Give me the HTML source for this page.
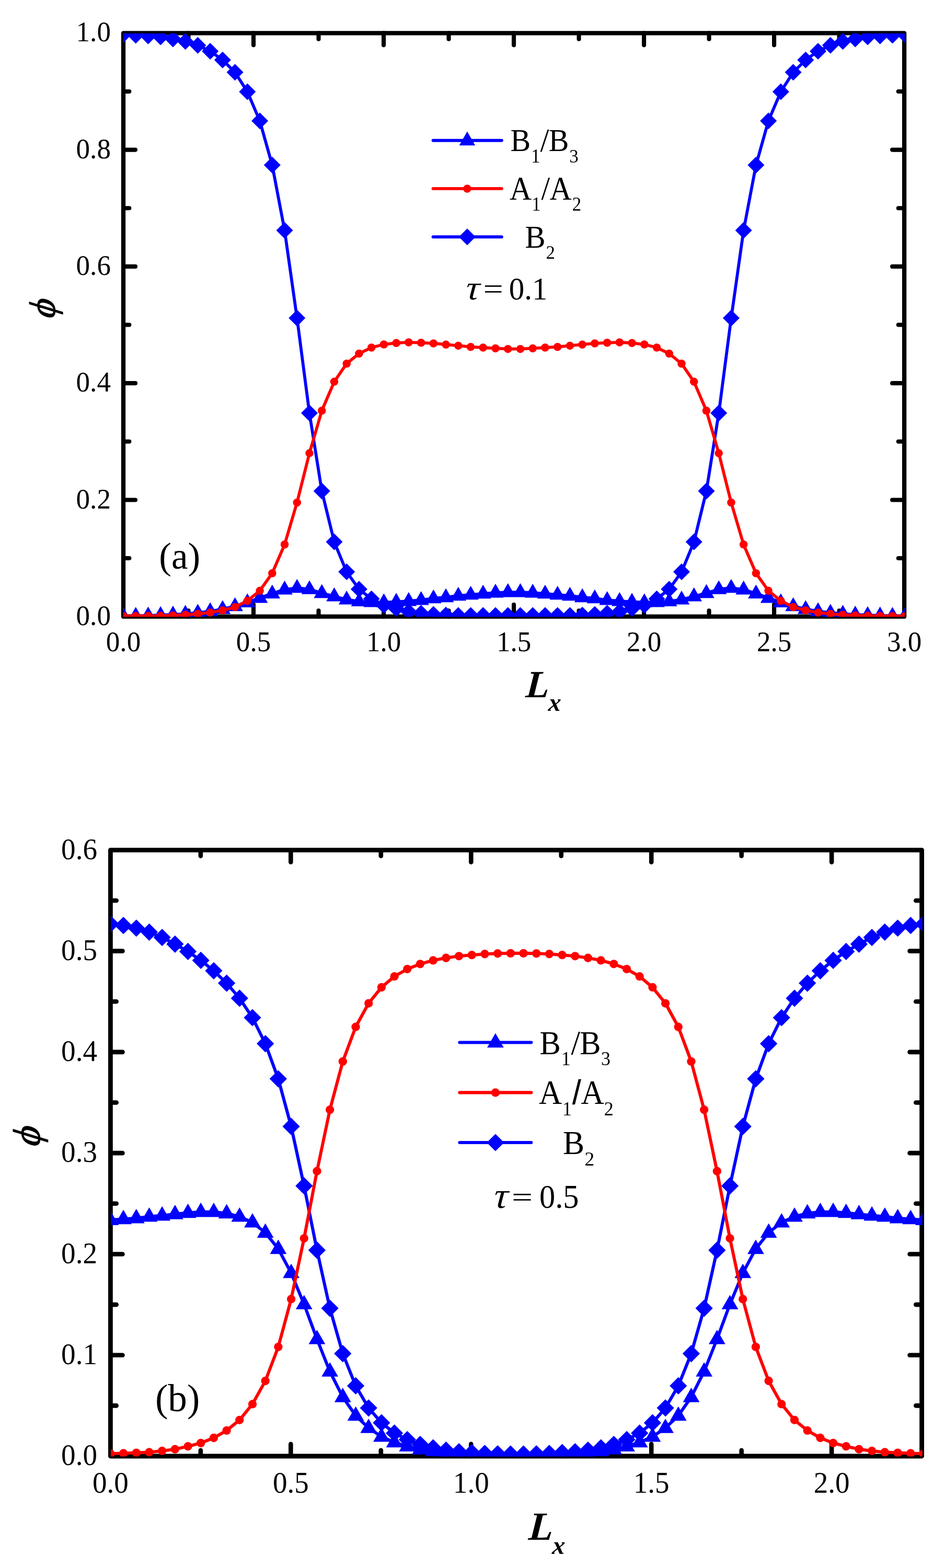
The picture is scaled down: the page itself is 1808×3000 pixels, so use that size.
<!DOCTYPE html>
<html lang="en">
<head>
<meta charset="utf-8">
<title>Density profiles</title>
<style>
html,body{margin:0;padding:0;background:#fff}
svg{display:block}
text{font-family:"Liberation Serif", serif;fill:#000}
</style>
</head>
<body>
<svg width="1808" height="3000" viewBox="0 0 1808 3000">
<rect width="1808" height="3000" fill="#fff"/>
<g fill="none" stroke="#000" stroke-width="8.3" stroke-linecap="round" stroke-linejoin="round">
<rect x="236" y="63.35" width="1494.1" height="1116.35"/>
<path d="M360.51 1179.7v-11.3M360.51 63.35v11.3M485.02 1179.7v-23M485.02 63.35v23M609.52 1179.7v-11.3M609.52 63.35v11.3M734.03 1179.7v-23M734.03 63.35v23M858.54 1179.7v-11.3M858.54 63.35v11.3M983.05 1179.7v-23M983.05 63.35v23M1107.56 1179.7v-11.3M1107.56 63.35v11.3M1232.07 1179.7v-23M1232.07 63.35v23M1356.58 1179.7v-11.3M1356.58 63.35v11.3M1481.08 1179.7v-23M1481.08 63.35v23M1605.59 1179.7v-11.3M1605.59 63.35v11.3M236 1068.07h11.3M1730.1 1068.07h-11.3M236 956.43h23M1730.1 956.43h-23M236 844.79h11.3M1730.1 844.79h-11.3M236 733.16h23M1730.1 733.16h-23M236 621.52h11.3M1730.1 621.52h-11.3M236 509.89h23M1730.1 509.89h-23M236 398.25h11.3M1730.1 398.25h-11.3M236 286.62h23M1730.1 286.62h-23M236 174.98h11.3M1730.1 174.98h-11.3" stroke-width="8.1"/>
</g>
<clipPath id="aclip"><rect x="235.8" y="64" width="1495.2" height="1116.1"/></clipPath>
<g clip-path="url(#aclip)">
<polyline points="236,1178.58 259.73,1178.36 283.47,1177.8 307.2,1177.02 330.93,1176.02 354.67,1174.45 378.4,1172.33 402.13,1169.54 425.87,1165.41 449.6,1159.83 473.33,1152.57 497.07,1143.98 520.8,1135.6 544.53,1128.01 568.27,1124.89 592,1127.45 615.73,1134.82 639.47,1141.07 663.2,1147.21 686.93,1150.67 710.67,1152.13 734.4,1152.35 758.13,1151.57 781.87,1150.01 805.6,1148.11 829.33,1144.87 853.07,1142.75 876.8,1139.96 900.53,1137.84 924.27,1135.94 948,1134.04 971.73,1133.04 995.47,1133.04 1019.2,1134.04 1042.93,1135.94 1066.67,1137.84 1090.4,1139.96 1114.13,1142.75 1137.87,1144.87 1161.6,1148.11 1185.33,1150.01 1209.07,1151.57 1232.8,1152.35 1256.53,1152.13 1280.27,1150.67 1304,1147.21 1327.73,1141.07 1351.47,1134.82 1375.2,1127.45 1398.93,1124.89 1422.67,1128.01 1446.4,1135.6 1470.13,1143.98 1493.87,1152.57 1517.6,1159.83 1541.33,1165.41 1565.07,1169.54 1588.8,1172.33 1612.53,1174.45 1636.27,1176.02 1660,1177.02 1683.73,1177.8 1707.47,1178.36 1731.2,1178.58" fill="none" stroke="#0000ff" stroke-width="5.8" stroke-linejoin="round"/>
<path d="M236 1161.38l15.3 26.6h-30.6zM259.73 1161.16l15.3 26.6h-30.6zM283.47 1160.6l15.3 26.6h-30.6zM307.2 1159.82l15.3 26.6h-30.6zM330.93 1158.82l15.3 26.6h-30.6zM354.67 1157.25l15.3 26.6h-30.6zM378.4 1155.13l15.3 26.6h-30.6zM402.13 1152.34l15.3 26.6h-30.6zM425.87 1148.21l15.3 26.6h-30.6zM449.6 1142.63l15.3 26.6h-30.6zM473.33 1135.37l15.3 26.6h-30.6zM497.07 1126.78l15.3 26.6h-30.6zM520.8 1118.4l15.3 26.6h-30.6zM544.53 1110.81l15.3 26.6h-30.6zM568.27 1107.69l15.3 26.6h-30.6zM592 1110.25l15.3 26.6h-30.6zM615.73 1117.62l15.3 26.6h-30.6zM639.47 1123.87l15.3 26.6h-30.6zM663.2 1130.01l15.3 26.6h-30.6zM686.93 1133.47l15.3 26.6h-30.6zM710.67 1134.93l15.3 26.6h-30.6zM734.4 1135.15l15.3 26.6h-30.6zM758.13 1134.37l15.3 26.6h-30.6zM781.87 1132.81l15.3 26.6h-30.6zM805.6 1130.91l15.3 26.6h-30.6zM829.33 1127.67l15.3 26.6h-30.6zM853.07 1125.55l15.3 26.6h-30.6zM876.8 1122.76l15.3 26.6h-30.6zM900.53 1120.64l15.3 26.6h-30.6zM924.27 1118.74l15.3 26.6h-30.6zM948 1116.84l15.3 26.6h-30.6zM971.73 1115.84l15.3 26.6h-30.6zM995.47 1115.84l15.3 26.6h-30.6zM1019.2 1116.84l15.3 26.6h-30.6zM1042.93 1118.74l15.3 26.6h-30.6zM1066.67 1120.64l15.3 26.6h-30.6zM1090.4 1122.76l15.3 26.6h-30.6zM1114.13 1125.55l15.3 26.6h-30.6zM1137.87 1127.67l15.3 26.6h-30.6zM1161.6 1130.91l15.3 26.6h-30.6zM1185.33 1132.81l15.3 26.6h-30.6zM1209.07 1134.37l15.3 26.6h-30.6zM1232.8 1135.15l15.3 26.6h-30.6zM1256.53 1134.93l15.3 26.6h-30.6zM1280.27 1133.47l15.3 26.6h-30.6zM1304 1130.01l15.3 26.6h-30.6zM1327.73 1123.87l15.3 26.6h-30.6zM1351.47 1117.62l15.3 26.6h-30.6zM1375.2 1110.25l15.3 26.6h-30.6zM1398.93 1107.69l15.3 26.6h-30.6zM1422.67 1110.81l15.3 26.6h-30.6zM1446.4 1118.4l15.3 26.6h-30.6zM1470.13 1126.78l15.3 26.6h-30.6zM1493.87 1135.37l15.3 26.6h-30.6zM1517.6 1142.63l15.3 26.6h-30.6zM1541.33 1148.21l15.3 26.6h-30.6zM1565.07 1152.34l15.3 26.6h-30.6zM1588.8 1155.13l15.3 26.6h-30.6zM1612.53 1157.25l15.3 26.6h-30.6zM1636.27 1158.82l15.3 26.6h-30.6zM1660 1159.82l15.3 26.6h-30.6zM1683.73 1160.6l15.3 26.6h-30.6zM1707.47 1161.16l15.3 26.6h-30.6zM1731.2 1161.38l15.3 26.6h-30.6z" fill="#0000ff"/>
<polyline points="236,66.03 259.73,67.48 283.47,68.71 307.2,70.61 330.93,74.51 354.67,79.2 378.4,86.79 402.13,97.96 425.87,114.7 449.6,138.37 473.33,175.54 497.07,231.36 520.8,315.87 544.53,440.79 568.27,608.58 592,790.32 615.73,939.46 639.47,1036.81 663.2,1094.08 686.93,1127.34 710.67,1145.87 734.4,1158.04 758.13,1164.41 781.87,1170.21 805.6,1173.23 829.33,1175.46 853.07,1176.8 876.8,1177.47 900.53,1177.47 924.27,1177.47 948,1177.47 971.73,1177.47 995.47,1177.47 1019.2,1177.47 1042.93,1177.47 1066.67,1177.47 1090.4,1177.47 1114.13,1176.8 1137.87,1175.46 1161.6,1173.23 1185.33,1170.21 1209.07,1164.41 1232.8,1158.04 1256.53,1145.87 1280.27,1127.34 1304,1094.08 1327.73,1036.81 1351.47,939.46 1375.2,790.32 1398.93,608.58 1422.67,440.79 1446.4,315.87 1470.13,231.36 1493.87,175.54 1517.6,138.37 1541.33,114.7 1565.07,97.96 1588.8,86.79 1612.53,79.2 1636.27,74.51 1660,70.61 1683.73,68.71 1707.47,67.48 1731.2,66.03" fill="none" stroke="#0000ff" stroke-width="5.8" stroke-linejoin="round"/>
<path d="M236 50.03l16 16l-16 16l-16 -16zM259.73 51.48l16 16l-16 16l-16 -16zM283.47 52.71l16 16l-16 16l-16 -16zM307.2 54.61l16 16l-16 16l-16 -16zM330.93 58.51l16 16l-16 16l-16 -16zM354.67 63.2l16 16l-16 16l-16 -16zM378.4 70.79l16 16l-16 16l-16 -16zM402.13 81.96l16 16l-16 16l-16 -16zM425.87 98.7l16 16l-16 16l-16 -16zM449.6 122.37l16 16l-16 16l-16 -16zM473.33 159.54l16 16l-16 16l-16 -16zM497.07 215.36l16 16l-16 16l-16 -16zM520.8 299.87l16 16l-16 16l-16 -16zM544.53 424.79l16 16l-16 16l-16 -16zM568.27 592.58l16 16l-16 16l-16 -16zM592 774.32l16 16l-16 16l-16 -16zM615.73 923.46l16 16l-16 16l-16 -16zM639.47 1020.81l16 16l-16 16l-16 -16zM663.2 1078.08l16 16l-16 16l-16 -16zM686.93 1111.34l16 16l-16 16l-16 -16zM710.67 1129.87l16 16l-16 16l-16 -16zM734.4 1142.04l16 16l-16 16l-16 -16zM758.13 1148.41l16 16l-16 16l-16 -16zM781.87 1154.21l16 16l-16 16l-16 -16zM805.6 1157.23l16 16l-16 16l-16 -16zM829.33 1159.46l16 16l-16 16l-16 -16zM853.07 1160.8l16 16l-16 16l-16 -16zM876.8 1161.47l16 16l-16 16l-16 -16zM900.53 1161.47l16 16l-16 16l-16 -16zM924.27 1161.47l16 16l-16 16l-16 -16zM948 1161.47l16 16l-16 16l-16 -16zM971.73 1161.47l16 16l-16 16l-16 -16zM995.47 1161.47l16 16l-16 16l-16 -16zM1019.2 1161.47l16 16l-16 16l-16 -16zM1042.93 1161.47l16 16l-16 16l-16 -16zM1066.67 1161.47l16 16l-16 16l-16 -16zM1090.4 1161.47l16 16l-16 16l-16 -16zM1114.13 1160.8l16 16l-16 16l-16 -16zM1137.87 1159.46l16 16l-16 16l-16 -16zM1161.6 1157.23l16 16l-16 16l-16 -16zM1185.33 1154.21l16 16l-16 16l-16 -16zM1209.07 1148.41l16 16l-16 16l-16 -16zM1232.8 1142.04l16 16l-16 16l-16 -16zM1256.53 1129.87l16 16l-16 16l-16 -16zM1280.27 1111.34l16 16l-16 16l-16 -16zM1304 1078.08l16 16l-16 16l-16 -16zM1327.73 1020.81l16 16l-16 16l-16 -16zM1351.47 923.46l16 16l-16 16l-16 -16zM1375.2 774.32l16 16l-16 16l-16 -16zM1398.93 592.58l16 16l-16 16l-16 -16zM1422.67 424.79l16 16l-16 16l-16 -16zM1446.4 299.87l16 16l-16 16l-16 -16zM1470.13 215.36l16 16l-16 16l-16 -16zM1493.87 159.54l16 16l-16 16l-16 -16zM1517.6 122.37l16 16l-16 16l-16 -16zM1541.33 98.7l16 16l-16 16l-16 -16zM1565.07 81.96l16 16l-16 16l-16 -16zM1588.8 70.79l16 16l-16 16l-16 -16zM1612.53 63.2l16 16l-16 16l-16 -16zM1636.27 58.51l16 16l-16 16l-16 -16zM1660 54.61l16 16l-16 16l-16 -16zM1683.73 52.71l16 16l-16 16l-16 -16zM1707.47 51.48l16 16l-16 16l-16 -16zM1731.2 50.03l16 16l-16 16l-16 -16z" fill="#0000ff"/>
<polyline points="236,1178.81 259.73,1178.58 283.47,1178.36 307.2,1178.03 330.93,1177.36 354.67,1176.24 378.4,1174.56 402.13,1171.89 425.87,1167.76 449.6,1161.5 473.33,1149.45 497.07,1130.13 520.8,1096.76 544.53,1041.83 568.27,961.45 592,867.12 615.73,785.74 639.47,730.37 663.2,695.65 686.93,676.45 710.67,665.06 734.4,659.03 758.13,656.24 781.87,654.9 805.6,655.8 829.33,656.91 853.07,659.15 876.8,661.38 900.53,663.72 924.27,665.06 948,666.4 971.73,667.63 995.47,667.63 1019.2,666.4 1042.93,665.06 1066.67,663.72 1090.4,661.38 1114.13,659.15 1137.87,656.91 1161.6,655.8 1185.33,654.9 1209.07,656.24 1232.8,659.03 1256.53,665.06 1280.27,676.45 1304,695.65 1327.73,730.37 1351.47,785.74 1375.2,867.12 1398.93,961.45 1422.67,1041.83 1446.4,1096.76 1470.13,1130.13 1493.87,1149.45 1517.6,1161.5 1541.33,1167.76 1565.07,1171.89 1588.8,1174.56 1612.53,1176.24 1636.27,1177.36 1660,1178.03 1683.73,1178.36 1707.47,1178.58 1731.2,1178.81" fill="none" stroke="#ff0000" stroke-width="5.8" stroke-linejoin="round"/>
<g fill="#ff0000"><circle cx="236" cy="1178.81" r="7.75"/><circle cx="259.73" cy="1178.58" r="7.75"/><circle cx="283.47" cy="1178.36" r="7.75"/><circle cx="307.2" cy="1178.03" r="7.75"/><circle cx="330.93" cy="1177.36" r="7.75"/><circle cx="354.67" cy="1176.24" r="7.75"/><circle cx="378.4" cy="1174.56" r="7.75"/><circle cx="402.13" cy="1171.89" r="7.75"/><circle cx="425.87" cy="1167.76" r="7.75"/><circle cx="449.6" cy="1161.5" r="7.75"/><circle cx="473.33" cy="1149.45" r="7.75"/><circle cx="497.07" cy="1130.13" r="7.75"/><circle cx="520.8" cy="1096.76" r="7.75"/><circle cx="544.53" cy="1041.83" r="7.75"/><circle cx="568.27" cy="961.45" r="7.75"/><circle cx="592" cy="867.12" r="7.75"/><circle cx="615.73" cy="785.74" r="7.75"/><circle cx="639.47" cy="730.37" r="7.75"/><circle cx="663.2" cy="695.65" r="7.75"/><circle cx="686.93" cy="676.45" r="7.75"/><circle cx="710.67" cy="665.06" r="7.75"/><circle cx="734.4" cy="659.03" r="7.75"/><circle cx="758.13" cy="656.24" r="7.75"/><circle cx="781.87" cy="654.9" r="7.75"/><circle cx="805.6" cy="655.8" r="7.75"/><circle cx="829.33" cy="656.91" r="7.75"/><circle cx="853.07" cy="659.15" r="7.75"/><circle cx="876.8" cy="661.38" r="7.75"/><circle cx="900.53" cy="663.72" r="7.75"/><circle cx="924.27" cy="665.06" r="7.75"/><circle cx="948" cy="666.4" r="7.75"/><circle cx="971.73" cy="667.63" r="7.75"/><circle cx="995.47" cy="667.63" r="7.75"/><circle cx="1019.2" cy="666.4" r="7.75"/><circle cx="1042.93" cy="665.06" r="7.75"/><circle cx="1066.67" cy="663.72" r="7.75"/><circle cx="1090.4" cy="661.38" r="7.75"/><circle cx="1114.13" cy="659.15" r="7.75"/><circle cx="1137.87" cy="656.91" r="7.75"/><circle cx="1161.6" cy="655.8" r="7.75"/><circle cx="1185.33" cy="654.9" r="7.75"/><circle cx="1209.07" cy="656.24" r="7.75"/><circle cx="1232.8" cy="659.03" r="7.75"/><circle cx="1256.53" cy="665.06" r="7.75"/><circle cx="1280.27" cy="676.45" r="7.75"/><circle cx="1304" cy="695.65" r="7.75"/><circle cx="1327.73" cy="730.37" r="7.75"/><circle cx="1351.47" cy="785.74" r="7.75"/><circle cx="1375.2" cy="867.12" r="7.75"/><circle cx="1398.93" cy="961.45" r="7.75"/><circle cx="1422.67" cy="1041.83" r="7.75"/><circle cx="1446.4" cy="1096.76" r="7.75"/><circle cx="1470.13" cy="1130.13" r="7.75"/><circle cx="1493.87" cy="1149.45" r="7.75"/><circle cx="1517.6" cy="1161.5" r="7.75"/><circle cx="1541.33" cy="1167.76" r="7.75"/><circle cx="1565.07" cy="1171.89" r="7.75"/><circle cx="1588.8" cy="1174.56" r="7.75"/><circle cx="1612.53" cy="1176.24" r="7.75"/><circle cx="1636.27" cy="1177.36" r="7.75"/><circle cx="1660" cy="1178.03" r="7.75"/><circle cx="1683.73" cy="1178.36" r="7.75"/><circle cx="1707.47" cy="1178.58" r="7.75"/><circle cx="1731.2" cy="1178.81" r="7.75"/></g>
</g>
<g fill="none" stroke-width="5.9" stroke-linecap="round">
<path d="M828.6 268.8H959.8" stroke="#0000ff"/>
<path d="M828.6 360.9H959.8" stroke="#ff0000"/>
<path d="M828.6 453.3H959.8" stroke="#0000ff"/>
</g>
<path d="M893.9 251.6l15.3 26.6h-30.6z" fill="#0000ff"/>
<circle cx="893.9" cy="360.9" r="7.75" fill="#ff0000"/>
<path d="M893.9 437.3l16 16l-16 16l-16 -16z" fill="#0000ff"/>
<text transform="translate(236 1246.1) scale(0.975 1)" font-size="54.4" text-anchor="middle">0.0</text>
<text transform="translate(485.02 1246.1) scale(0.975 1)" font-size="54.4" text-anchor="middle">0.5</text>
<text transform="translate(734.03 1246.1) scale(0.975 1)" font-size="54.4" text-anchor="middle">1.0</text>
<text transform="translate(983.05 1246.1) scale(0.975 1)" font-size="54.4" text-anchor="middle">1.5</text>
<text transform="translate(1232.07 1246.1) scale(0.975 1)" font-size="54.4" text-anchor="middle">2.0</text>
<text transform="translate(1481.08 1246.1) scale(0.975 1)" font-size="54.4" text-anchor="middle">2.5</text>
<text transform="translate(1730.1 1246.1) scale(0.975 1)" font-size="54.4" text-anchor="middle">3.0</text>
<text transform="translate(211.9 1195.8) scale(0.975 1)" font-size="54.4" text-anchor="end">0.0</text>
<text transform="translate(211.9 972.53) scale(0.975 1)" font-size="54.4" text-anchor="end">0.2</text>
<text transform="translate(211.9 749.26) scale(0.975 1)" font-size="54.4" text-anchor="end">0.4</text>
<text transform="translate(211.9 525.99) scale(0.975 1)" font-size="54.4" text-anchor="end">0.6</text>
<text transform="translate(211.9 302.72) scale(0.975 1)" font-size="54.4" text-anchor="end">0.8</text>
<text transform="translate(211.9 79.45) scale(0.975 1)" font-size="54.4" text-anchor="end">1.0</text>
<text transform="scale(0.950 1)"><tspan x="1027.83" y="289.33" font-size="60.96">B</tspan><tspan x="1069.61" y="310.82" font-size="37.23">1</tspan><tspan x="1087.98" y="289.92" font-size="64.33">/</tspan><tspan x="1104.96" y="289.33" font-size="60.96">B</tspan><tspan x="1146.54" y="310.66" font-size="36.85">3</tspan></text>
<text transform="scale(0.930 1)"><tspan x="1048.46" y="381.96" font-size="62.86">A</tspan><tspan x="1093.9" y="402.97" font-size="37.55">1</tspan><tspan x="1113.45" y="381.96" font-size="64.16">/</tspan><tspan x="1130.56" y="381.96" font-size="62.86">A</tspan><tspan x="1177.08" y="402.97" font-size="37.4">2</tspan></text>
<text transform="scale(0.970 1)"><tspan x="1035.52" y="473.72" font-size="60.43">B</tspan><tspan x="1076.69" y="494.53" font-size="35.93">2</tspan></text>
<g><text transform="translate(890.13 572.88) skewX(-4) scale(1.120 1)" font-size="65.91" font-style="italic" stroke="#fff" stroke-width="0.2">τ </text><text transform="translate(924.41 570.94) scale(1.224 1)" font-size="55.6">= </text><text transform="scale(0.960 1)"><tspan x="1014.34" y="572.62" font-size="61.41">0.1</tspan></text></g>
<text transform="scale(0.990 1)"><tspan x="307.42" y="1087.76" font-size="71.74">(a)</tspan></text>
<text font-style="italic" font-weight="bold" transform="skewX(-4)"><tspan x="1098.13" y="1333.7" font-size="73.6">L</tspan><tspan x="1143.57" y="1359.98" font-size="47.79">x</tspan></text>
<text transform="translate(105.3 594.4) rotate(-90) skewX(-17)" font-size="70.3" stroke="#000" stroke-width="1.3" text-anchor="middle">ϕ</text>
<g fill="none" stroke="#000" stroke-width="8.8" stroke-linecap="round" stroke-linejoin="round">
<rect x="211.4" y="1626.35" width="1552.2" height="1159.65"/>
<path d="M383.87 2786v-11.3M383.87 1626.35v11.3M556.33 2786v-23.1M556.33 1626.35v23.1M728.8 2786v-11.3M728.8 1626.35v11.3M901.27 2786v-23.1M901.27 1626.35v23.1M1073.73 2786v-11.3M1073.73 1626.35v11.3M1246.2 2786v-23.1M1246.2 1626.35v23.1M1418.67 2786v-11.3M1418.67 1626.35v11.3M1591.13 2786v-23.1M1591.13 1626.35v23.1M211.4 2689.36h11.3M1763.6 2689.36h-11.3M211.4 2592.72h23.1M1763.6 2592.72h-23.1M211.4 2496.09h11.3M1763.6 2496.09h-11.3M211.4 2399.45h23.1M1763.6 2399.45h-23.1M211.4 2302.81h11.3M1763.6 2302.81h-11.3M211.4 2206.17h23.1M1763.6 2206.17h-23.1M211.4 2109.54h11.3M1763.6 2109.54h-11.3M211.4 2012.9h23.1M1763.6 2012.9h-23.1M211.4 1916.26h11.3M1763.6 1916.26h-11.3M211.4 1819.62h23.1M1763.6 1819.62h-23.1M211.4 1722.99h11.3M1763.6 1722.99h-11.3" stroke-width="8.6"/>
</g>
<clipPath id="bclip"><rect x="212.2" y="1627" width="1552.4" height="1159.6"/></clipPath>
<g clip-path="url(#bclip)">
<polyline points="211.4,2334.12 236.09,2332.38 260.78,2330.64 285.47,2327.74 310.16,2325.62 334.85,2322.91 359.54,2320.59 384.23,2318.66 408.92,2318.85 433.61,2321.37 458.3,2327.74 483,2338.76 507.69,2358.48 532.38,2389.4 557.07,2435.59 581.76,2495.31 606.45,2561.99 631.14,2624.04 655.83,2672.93 680.52,2708.5 705.21,2732.08 729.9,2748.7 754.59,2759.52 779.28,2767.25 803.97,2773.05 828.66,2776.14 853.35,2778.66 878.04,2780.59 902.73,2781.94 927.42,2783.1 952.11,2783.68 976.8,2783.87 1001.5,2783.87 1026.19,2783.68 1050.88,2783.1 1075.57,2781.94 1100.26,2780.59 1124.95,2778.66 1149.64,2776.14 1174.33,2773.05 1199.02,2767.25 1223.71,2759.52 1248.4,2748.7 1273.09,2732.08 1297.78,2708.5 1322.47,2672.93 1347.16,2624.04 1371.85,2561.99 1396.54,2495.31 1421.23,2435.59 1445.92,2389.4 1470.61,2358.48 1495.3,2338.76 1520,2327.74 1544.69,2321.37 1569.38,2318.85 1594.07,2318.66 1618.76,2320.59 1643.45,2322.91 1668.14,2325.62 1692.83,2327.74 1717.52,2330.64 1742.21,2332.38 1766.9,2334.12" fill="none" stroke="#0000ff" stroke-width="6.02" stroke-linejoin="round"/>
<path d="M211.4 2316.26l15.89 27.63h-31.78zM236.09 2314.52l15.89 27.63h-31.78zM260.78 2312.78l15.89 27.63h-31.78zM285.47 2309.88l15.89 27.63h-31.78zM310.16 2307.76l15.89 27.63h-31.78zM334.85 2305.05l15.89 27.63h-31.78zM359.54 2302.73l15.89 27.63h-31.78zM384.23 2300.8l15.89 27.63h-31.78zM408.92 2300.99l15.89 27.63h-31.78zM433.61 2303.5l15.89 27.63h-31.78zM458.3 2309.88l15.89 27.63h-31.78zM483 2320.9l15.89 27.63h-31.78zM507.69 2340.61l15.89 27.63h-31.78zM532.38 2371.54l15.89 27.63h-31.78zM557.07 2417.73l15.89 27.63h-31.78zM581.76 2477.45l15.89 27.63h-31.78zM606.45 2544.13l15.89 27.63h-31.78zM631.14 2606.17l15.89 27.63h-31.78zM655.83 2655.07l15.89 27.63h-31.78zM680.52 2690.63l15.89 27.63h-31.78zM705.21 2714.21l15.89 27.63h-31.78zM729.9 2730.83l15.89 27.63h-31.78zM754.59 2741.66l15.89 27.63h-31.78zM779.28 2749.39l15.89 27.63h-31.78zM803.97 2755.19l15.89 27.63h-31.78zM828.66 2758.28l15.89 27.63h-31.78zM853.35 2760.79l15.89 27.63h-31.78zM878.04 2762.72l15.89 27.63h-31.78zM902.73 2764.08l15.89 27.63h-31.78zM927.42 2765.24l15.89 27.63h-31.78zM952.11 2765.82l15.89 27.63h-31.78zM976.8 2766.01l15.89 27.63h-31.78zM1001.5 2766.01l15.89 27.63h-31.78zM1026.19 2765.82l15.89 27.63h-31.78zM1050.88 2765.24l15.89 27.63h-31.78zM1075.57 2764.08l15.89 27.63h-31.78zM1100.26 2762.72l15.89 27.63h-31.78zM1124.95 2760.79l15.89 27.63h-31.78zM1149.64 2758.28l15.89 27.63h-31.78zM1174.33 2755.19l15.89 27.63h-31.78zM1199.02 2749.39l15.89 27.63h-31.78zM1223.71 2741.66l15.89 27.63h-31.78zM1248.4 2730.83l15.89 27.63h-31.78zM1273.09 2714.21l15.89 27.63h-31.78zM1297.78 2690.63l15.89 27.63h-31.78zM1322.47 2655.07l15.89 27.63h-31.78zM1347.16 2606.17l15.89 27.63h-31.78zM1371.85 2544.13l15.89 27.63h-31.78zM1396.54 2477.45l15.89 27.63h-31.78zM1421.23 2417.73l15.89 27.63h-31.78zM1445.92 2371.54l15.89 27.63h-31.78zM1470.61 2340.61l15.89 27.63h-31.78zM1495.3 2320.9l15.89 27.63h-31.78zM1520 2309.88l15.89 27.63h-31.78zM1544.69 2303.5l15.89 27.63h-31.78zM1569.38 2300.99l15.89 27.63h-31.78zM1594.07 2300.8l15.89 27.63h-31.78zM1618.76 2302.73l15.89 27.63h-31.78zM1643.45 2305.05l15.89 27.63h-31.78zM1668.14 2307.76l15.89 27.63h-31.78zM1692.83 2309.88l15.89 27.63h-31.78zM1717.52 2312.78l15.89 27.63h-31.78zM1742.21 2314.52l15.89 27.63h-31.78zM1766.9 2316.26l15.89 27.63h-31.78z" fill="#0000ff"/>
<polyline points="211.4,1767.83 236.09,1770.73 260.78,1775.75 285.47,1783.29 310.16,1793.53 334.85,1806.29 359.54,1820.4 384.23,1837.41 408.92,1857.31 433.61,1881.09 458.3,1909.88 483,1946.99 507.69,1996.86 532.38,2064.12 557.07,2155.15 581.76,2268.99 606.45,2391.91 631.14,2503.05 655.83,2589.83 680.52,2651.48 705.21,2693.81 729.9,2722.22 754.59,2741.93 779.28,2754.3 803.97,2763.58 828.66,2770.15 853.35,2774.6 878.04,2777.5 902.73,2779.24 927.42,2780.78 952.11,2781.55 976.8,2781.94 1001.5,2781.94 1026.19,2781.55 1050.88,2780.78 1075.57,2779.24 1100.26,2777.5 1124.95,2774.6 1149.64,2770.15 1174.33,2763.58 1199.02,2754.3 1223.71,2741.93 1248.4,2722.22 1273.09,2693.81 1297.78,2651.48 1322.47,2589.83 1347.16,2503.05 1371.85,2391.91 1396.54,2268.99 1421.23,2155.15 1445.92,2064.12 1470.61,1996.86 1495.3,1946.99 1520,1909.88 1544.69,1881.09 1569.38,1857.31 1594.07,1837.41 1618.76,1820.4 1643.45,1806.29 1668.14,1793.53 1692.83,1783.29 1717.52,1775.75 1742.21,1770.73 1766.9,1767.83" fill="none" stroke="#0000ff" stroke-width="6.02" stroke-linejoin="round"/>
<path d="M211.4 1751.21l16.62 16.62l-16.62 16.62l-16.62 -16.62zM236.09 1754.11l16.62 16.62l-16.62 16.62l-16.62 -16.62zM260.78 1759.13l16.62 16.62l-16.62 16.62l-16.62 -16.62zM285.47 1766.67l16.62 16.62l-16.62 16.62l-16.62 -16.62zM310.16 1776.92l16.62 16.62l-16.62 16.62l-16.62 -16.62zM334.85 1789.67l16.62 16.62l-16.62 16.62l-16.62 -16.62zM359.54 1803.78l16.62 16.62l-16.62 16.62l-16.62 -16.62zM384.23 1820.79l16.62 16.62l-16.62 16.62l-16.62 -16.62zM408.92 1840.7l16.62 16.62l-16.62 16.62l-16.62 -16.62zM433.61 1864.47l16.62 16.62l-16.62 16.62l-16.62 -16.62zM458.3 1893.27l16.62 16.62l-16.62 16.62l-16.62 -16.62zM483 1930.38l16.62 16.62l-16.62 16.62l-16.62 -16.62zM507.69 1980.24l16.62 16.62l-16.62 16.62l-16.62 -16.62zM532.38 2047.5l16.62 16.62l-16.62 16.62l-16.62 -16.62zM557.07 2138.53l16.62 16.62l-16.62 16.62l-16.62 -16.62zM581.76 2252.37l16.62 16.62l-16.62 16.62l-16.62 -16.62zM606.45 2375.29l16.62 16.62l-16.62 16.62l-16.62 -16.62zM631.14 2486.43l16.62 16.62l-16.62 16.62l-16.62 -16.62zM655.83 2573.21l16.62 16.62l-16.62 16.62l-16.62 -16.62zM680.52 2634.86l16.62 16.62l-16.62 16.62l-16.62 -16.62zM705.21 2677.19l16.62 16.62l-16.62 16.62l-16.62 -16.62zM729.9 2705.6l16.62 16.62l-16.62 16.62l-16.62 -16.62zM754.59 2725.32l16.62 16.62l-16.62 16.62l-16.62 -16.62zM779.28 2737.69l16.62 16.62l-16.62 16.62l-16.62 -16.62zM803.97 2746.96l16.62 16.62l-16.62 16.62l-16.62 -16.62zM828.66 2753.53l16.62 16.62l-16.62 16.62l-16.62 -16.62zM853.35 2757.98l16.62 16.62l-16.62 16.62l-16.62 -16.62zM878.04 2760.88l16.62 16.62l-16.62 16.62l-16.62 -16.62zM902.73 2762.62l16.62 16.62l-16.62 16.62l-16.62 -16.62zM927.42 2764.16l16.62 16.62l-16.62 16.62l-16.62 -16.62zM952.11 2764.94l16.62 16.62l-16.62 16.62l-16.62 -16.62zM976.8 2765.32l16.62 16.62l-16.62 16.62l-16.62 -16.62zM1001.5 2765.32l16.62 16.62l-16.62 16.62l-16.62 -16.62zM1026.19 2764.94l16.62 16.62l-16.62 16.62l-16.62 -16.62zM1050.88 2764.16l16.62 16.62l-16.62 16.62l-16.62 -16.62zM1075.57 2762.62l16.62 16.62l-16.62 16.62l-16.62 -16.62zM1100.26 2760.88l16.62 16.62l-16.62 16.62l-16.62 -16.62zM1124.95 2757.98l16.62 16.62l-16.62 16.62l-16.62 -16.62zM1149.64 2753.53l16.62 16.62l-16.62 16.62l-16.62 -16.62zM1174.33 2746.96l16.62 16.62l-16.62 16.62l-16.62 -16.62zM1199.02 2737.69l16.62 16.62l-16.62 16.62l-16.62 -16.62zM1223.71 2725.32l16.62 16.62l-16.62 16.62l-16.62 -16.62zM1248.4 2705.6l16.62 16.62l-16.62 16.62l-16.62 -16.62zM1273.09 2677.19l16.62 16.62l-16.62 16.62l-16.62 -16.62zM1297.78 2634.86l16.62 16.62l-16.62 16.62l-16.62 -16.62zM1322.47 2573.21l16.62 16.62l-16.62 16.62l-16.62 -16.62zM1347.16 2486.43l16.62 16.62l-16.62 16.62l-16.62 -16.62zM1371.85 2375.29l16.62 16.62l-16.62 16.62l-16.62 -16.62zM1396.54 2252.37l16.62 16.62l-16.62 16.62l-16.62 -16.62zM1421.23 2138.53l16.62 16.62l-16.62 16.62l-16.62 -16.62zM1445.92 2047.5l16.62 16.62l-16.62 16.62l-16.62 -16.62zM1470.61 1980.24l16.62 16.62l-16.62 16.62l-16.62 -16.62zM1495.3 1930.38l16.62 16.62l-16.62 16.62l-16.62 -16.62zM1520 1893.27l16.62 16.62l-16.62 16.62l-16.62 -16.62zM1544.69 1864.47l16.62 16.62l-16.62 16.62l-16.62 -16.62zM1569.38 1840.7l16.62 16.62l-16.62 16.62l-16.62 -16.62zM1594.07 1820.79l16.62 16.62l-16.62 16.62l-16.62 -16.62zM1618.76 1803.78l16.62 16.62l-16.62 16.62l-16.62 -16.62zM1643.45 1789.67l16.62 16.62l-16.62 16.62l-16.62 -16.62zM1668.14 1776.92l16.62 16.62l-16.62 16.62l-16.62 -16.62zM1692.83 1766.67l16.62 16.62l-16.62 16.62l-16.62 -16.62zM1717.52 1759.13l16.62 16.62l-16.62 16.62l-16.62 -16.62zM1742.21 1754.11l16.62 16.62l-16.62 16.62l-16.62 -16.62zM1766.9 1751.21l16.62 16.62l-16.62 16.62l-16.62 -16.62z" fill="#0000ff"/>
<polyline points="211.4,2781.36 236.09,2780.4 260.78,2779.62 285.47,2778.46 310.16,2775.95 334.85,2772.66 359.54,2767.25 384.23,2760.87 408.92,2751.02 433.61,2736.91 458.3,2716.81 483,2686.46 507.69,2642.01 532.38,2577.07 557.07,2485.46 581.76,2369.3 606.45,2240.77 631.14,2123.26 655.83,2030.87 680.52,1964.77 705.21,1919.55 729.9,1889.01 754.59,1868.14 779.28,1854.03 803.97,1844.36 828.66,1837.41 853.35,1832.77 878.04,1829.29 902.73,1827.16 927.42,1825.23 952.11,1824.26 976.8,1823.88 1001.5,1823.88 1026.19,1824.26 1050.88,1825.23 1075.57,1827.16 1100.26,1829.29 1124.95,1832.77 1149.64,1837.41 1174.33,1844.36 1199.02,1854.03 1223.71,1868.14 1248.4,1889.01 1273.09,1919.55 1297.78,1964.77 1322.47,2030.87 1347.16,2123.26 1371.85,2240.77 1396.54,2369.3 1421.23,2485.46 1445.92,2577.07 1470.61,2642.01 1495.3,2686.46 1520,2716.81 1544.69,2736.91 1569.38,2751.02 1594.07,2760.87 1618.76,2767.25 1643.45,2772.66 1668.14,2775.95 1692.83,2778.46 1717.52,2779.62 1742.21,2780.4 1766.9,2781.36" fill="none" stroke="#ff0000" stroke-width="6.02" stroke-linejoin="round"/>
<g fill="#ff0000"><circle cx="211.4" cy="2781.36" r="8.15"/><circle cx="236.09" cy="2780.4" r="8.15"/><circle cx="260.78" cy="2779.62" r="8.15"/><circle cx="285.47" cy="2778.46" r="8.15"/><circle cx="310.16" cy="2775.95" r="8.15"/><circle cx="334.85" cy="2772.66" r="8.15"/><circle cx="359.54" cy="2767.25" r="8.15"/><circle cx="384.23" cy="2760.87" r="8.15"/><circle cx="408.92" cy="2751.02" r="8.15"/><circle cx="433.61" cy="2736.91" r="8.15"/><circle cx="458.3" cy="2716.81" r="8.15"/><circle cx="483" cy="2686.46" r="8.15"/><circle cx="507.69" cy="2642.01" r="8.15"/><circle cx="532.38" cy="2577.07" r="8.15"/><circle cx="557.07" cy="2485.46" r="8.15"/><circle cx="581.76" cy="2369.3" r="8.15"/><circle cx="606.45" cy="2240.77" r="8.15"/><circle cx="631.14" cy="2123.26" r="8.15"/><circle cx="655.83" cy="2030.87" r="8.15"/><circle cx="680.52" cy="1964.77" r="8.15"/><circle cx="705.21" cy="1919.55" r="8.15"/><circle cx="729.9" cy="1889.01" r="8.15"/><circle cx="754.59" cy="1868.14" r="8.15"/><circle cx="779.28" cy="1854.03" r="8.15"/><circle cx="803.97" cy="1844.36" r="8.15"/><circle cx="828.66" cy="1837.41" r="8.15"/><circle cx="853.35" cy="1832.77" r="8.15"/><circle cx="878.04" cy="1829.29" r="8.15"/><circle cx="902.73" cy="1827.16" r="8.15"/><circle cx="927.42" cy="1825.23" r="8.15"/><circle cx="952.11" cy="1824.26" r="8.15"/><circle cx="976.8" cy="1823.88" r="8.15"/><circle cx="1001.5" cy="1823.88" r="8.15"/><circle cx="1026.19" cy="1824.26" r="8.15"/><circle cx="1050.88" cy="1825.23" r="8.15"/><circle cx="1075.57" cy="1827.16" r="8.15"/><circle cx="1100.26" cy="1829.29" r="8.15"/><circle cx="1124.95" cy="1832.77" r="8.15"/><circle cx="1149.64" cy="1837.41" r="8.15"/><circle cx="1174.33" cy="1844.36" r="8.15"/><circle cx="1199.02" cy="1854.03" r="8.15"/><circle cx="1223.71" cy="1868.14" r="8.15"/><circle cx="1248.4" cy="1889.01" r="8.15"/><circle cx="1273.09" cy="1919.55" r="8.15"/><circle cx="1297.78" cy="1964.77" r="8.15"/><circle cx="1322.47" cy="2030.87" r="8.15"/><circle cx="1347.16" cy="2123.26" r="8.15"/><circle cx="1371.85" cy="2240.77" r="8.15"/><circle cx="1396.54" cy="2369.3" r="8.15"/><circle cx="1421.23" cy="2485.46" r="8.15"/><circle cx="1445.92" cy="2577.07" r="8.15"/><circle cx="1470.61" cy="2642.01" r="8.15"/><circle cx="1495.3" cy="2686.46" r="8.15"/><circle cx="1520" cy="2716.81" r="8.15"/><circle cx="1544.69" cy="2736.91" r="8.15"/><circle cx="1569.38" cy="2751.02" r="8.15"/><circle cx="1594.07" cy="2760.87" r="8.15"/><circle cx="1618.76" cy="2767.25" r="8.15"/><circle cx="1643.45" cy="2772.66" r="8.15"/><circle cx="1668.14" cy="2775.95" r="8.15"/><circle cx="1692.83" cy="2778.46" r="8.15"/><circle cx="1717.52" cy="2779.62" r="8.15"/><circle cx="1742.21" cy="2780.4" r="8.15"/><circle cx="1766.9" cy="2781.36" r="8.15"/></g>
</g>
<g fill="none" stroke-width="6.13" stroke-linecap="round">
<path d="M879.45 1994.5H1016.3" stroke="#0000ff"/>
<path d="M879.45 2090.4H1016.3" stroke="#ff0000"/>
<path d="M879.45 2186H1016.3" stroke="#0000ff"/>
</g>
<path d="M947.9 1976.64l15.89 27.63h-31.78z" fill="#0000ff"/>
<circle cx="947.9" cy="2090.4" r="8.15" fill="#ff0000"/>
<path d="M947.9 2169.38l16.62 16.62l-16.62 16.62l-16.62 -16.62z" fill="#0000ff"/>
<text transform="translate(211.4 2855.6) scale(0.975 1)" font-size="56.5" text-anchor="middle">0.0</text>
<text transform="translate(556.33 2855.6) scale(0.975 1)" font-size="56.5" text-anchor="middle">0.5</text>
<text transform="translate(901.27 2855.6) scale(0.975 1)" font-size="56.5" text-anchor="middle">1.0</text>
<text transform="translate(1246.2 2855.6) scale(0.975 1)" font-size="56.5" text-anchor="middle">1.5</text>
<text transform="translate(1591.13 2855.6) scale(0.975 1)" font-size="56.5" text-anchor="middle">2.0</text>
<text transform="translate(185.95 2803.3) scale(0.975 1)" font-size="56.5" text-anchor="end">0.0</text>
<text transform="translate(185.95 2610.03) scale(0.975 1)" font-size="56.5" text-anchor="end">0.1</text>
<text transform="translate(185.95 2416.75) scale(0.975 1)" font-size="56.5" text-anchor="end">0.2</text>
<text transform="translate(185.95 2223.48) scale(0.975 1)" font-size="56.5" text-anchor="end">0.3</text>
<text transform="translate(185.95 2030.2) scale(0.975 1)" font-size="56.5" text-anchor="end">0.4</text>
<text transform="translate(185.95 1836.92) scale(0.975 1)" font-size="56.5" text-anchor="end">0.5</text>
<text transform="translate(185.95 1643.65) scale(0.975 1)" font-size="56.5" text-anchor="end">0.6</text>
<text transform="scale(0.950 1)"><tspan x="1086.97" y="2016.51" font-size="63.6">B</tspan><tspan x="1130.61" y="2037.88" font-size="37.65">1</tspan><tspan x="1150.09" y="2016.61" font-size="66.39">/</tspan><tspan x="1167.73" y="2016.51" font-size="63.6">B</tspan><tspan x="1210.62" y="2038.1" font-size="37.84">3</tspan></text>
<text transform="scale(0.935 1)"><tspan x="1102.8" y="2112.42" font-size="65.56">A</tspan><tspan x="1150.87" y="2134.24" font-size="38.56">1</tspan><tspan x="1171.03" y="2112.39" font-size="63.99" style="font-family:&quot;Liberation Sans&quot;,sans-serif" stroke="#000" stroke-width="0.5">/</tspan><tspan x="1188.68" y="2112.42" font-size="65.56">A</tspan><tspan x="1236.09" y="2134.24" font-size="38.42">2</tspan></text>
<text transform="scale(0.975 1)"><tspan x="1104.74" y="2207.91" font-size="63.09">B</tspan><tspan x="1147.12" y="2230" font-size="38.46">2</tspan></text>
<g><text transform="translate(943.87 2311.08) skewX(-4) scale(1.090 1)" font-size="69.98" font-style="italic" stroke="#fff" stroke-width="0.2">τ </text><text transform="translate(979.04 2307.88) scale(1.350 1)" font-size="52.64">= </text><text transform="scale(0.950 1)"><tspan x="1086.22" y="2310.83" font-size="63.65">0.5</tspan></text></g>
<text transform="scale(0.985 1)"><tspan x="301.49" y="2700.48" font-size="74.27">(b)</tspan></text>
<text font-style="italic" font-weight="bold" transform="skewX(-4)"><tspan x="1216.17" y="2945.99" font-size="76.5">L</tspan><tspan x="1263.62" y="2973.46" font-size="48.69">x</tspan></text>
<text transform="translate(75.7 2178.25) rotate(-90) skewX(-17)" font-size="73.3" stroke="#000" stroke-width="1.35" text-anchor="middle">ϕ</text>
</svg>
</body>
</html>
